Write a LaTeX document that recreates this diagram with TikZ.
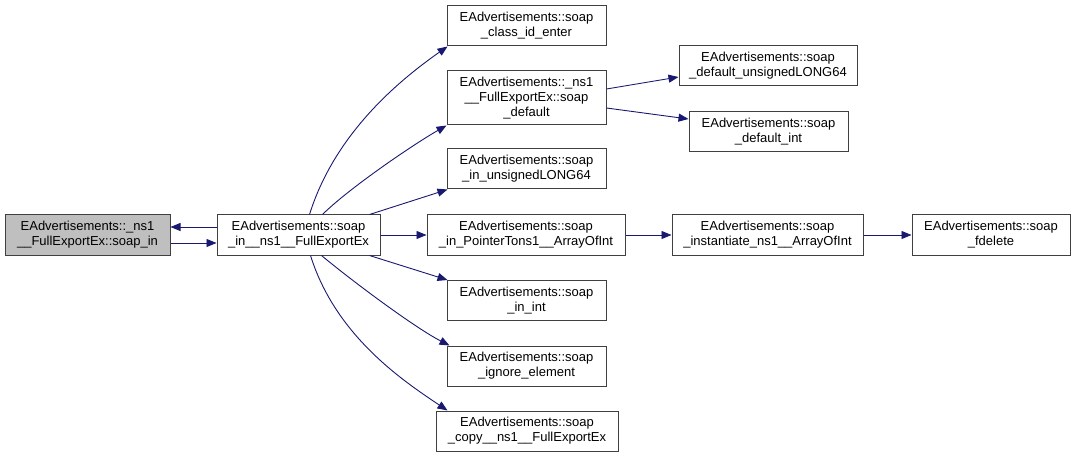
\documentclass[tikz,border=0pt]{standalone}
\usepackage{fontspec}
\setmainfont{Liberation Sans}
\usetikzlibrary{arrows.meta,calc}
\definecolor{edgeblue}{HTML}{191970}
\definecolor{boxline}{HTML}{404040}
\tikzset{
  fbox/.style={draw=boxline, line width=1pt, inner sep=0pt, align=center,
    minimum height=40pt, font=\fontsize{13pt}{15pt}\selectfont},
  rootbox/.style={fbox, fill=black!25},
  edge/.style={draw=edgeblue, line width=0.9pt, -{Triangle[length=10pt,width=8pt]}, color=edgeblue}
}
\begin{document}
\begin{tikzpicture}[x=1pt,y=-1pt]
\useasboundingbox (0,0) rectangle (1076,457);
\node[rootbox, minimum width=165pt] (root) at (87.5,235) {EAdvertisements::\_ns1\\\_\_FullExportEx::soap\_in};
\node[fbox, minimum width=163pt] (main) at (298.5,235) {EAdvertisements::soap\\\_in\_\_ns1\_\_FullExportEx};
\node[fbox, minimum width=159pt] (cid) at (526.5,26) {EAdvertisements::soap\\\_class\_id\_enter};
\node[fbox, minimum width=159pt, minimum height=54pt] (nsdef) at (526.5,98) {EAdvertisements::\_ns1\\\_\_FullExportEx::soap\\\_default};
\node[fbox, minimum width=159pt] (inul) at (526.5,169) {EAdvertisements::soap\\\_in\_unsignedLONG64};
\node[fbox, minimum width=198pt] (ptr) at (526,235) {EAdvertisements::soap\\\_in\_PointerTons1\_\_ArrayOfInt};
\node[fbox, minimum width=159pt] (inint) at (526.5,300.5) {EAdvertisements::soap\\\_in\_int};
\node[fbox, minimum width=159pt] (ign) at (526.5,366) {EAdvertisements::soap\\\_ignore\_element};
\node[fbox, minimum width=182pt] (copy) at (527,431) {EAdvertisements::soap\\\_copy\_\_ns1\_\_FullExportEx};
\node[fbox, minimum width=178pt] (dul) at (768,66) {EAdvertisements::soap\\\_default\_unsignedLONG64};
\node[fbox, minimum width=159pt] (dint) at (768.5,132) {EAdvertisements::soap\\\_default\_int};
\node[fbox, minimum width=191pt] (inst) at (767.5,235) {EAdvertisements::soap\\\_instantiate\_ns1\_\_ArrayOfInt};
\node[fbox, minimum width=158pt] (fdel) at (991,235) {EAdvertisements::soap\\\_fdelete};

\draw[edge] ($(main.west)+(0,-8)$) -- ($(root.east)+(0,-8)$);
\draw[edge] ($(root.east)+(0,8)$) -- ($(main.west)+(0,8)$);
\draw[edge] ($(main.north west)+(93,0)$) .. controls +(25,-80) and +(-50,35) .. ($(cid.south west)+(1,0)$);
\draw[edge] ($(main.north west)+(106,0)$) .. controls +(25,-25) and +(-35,20) .. ($(nsdef.south west)+(0,0)$);
\draw[edge] ($(main.north west)+(153,0)$) -- ($(inul.south west)+(1,0)$);
\draw[edge] (main.east) -- (ptr.west);
\draw[edge] ($(main.south west)+(153,0)$) -- ($(inint.north west)+(1,0)$);
\draw[edge] ($(main.south west)+(105,0)$) .. controls +(30,25) and +(-35,-18) .. ($(ign.north west)+(3,0)$);
\draw[edge] ($(main.south west)+(94,0)$) .. controls +(25,80) and +(-45,-30) .. ($(copy.north west)+(12,0)$);
\draw[edge] ($(nsdef.east)+(0,-9)$) -- ($(dul.west)+(0,11)$);
\draw[edge] ($(nsdef.east)+(0,10)$) -- ($(dint.west)+(0,-13)$);
\draw[edge] (ptr.east) -- (inst.west);
\draw[edge] (inst.east) -- (fdel.west);
\end{tikzpicture}
\end{document}
